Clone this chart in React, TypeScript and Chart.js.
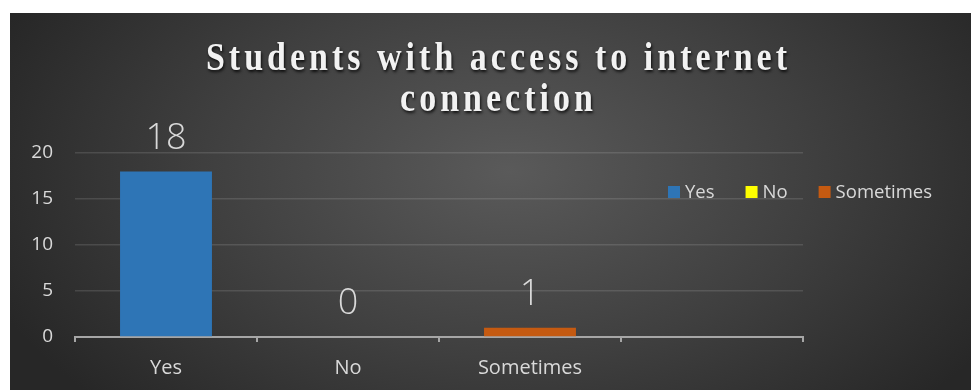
import React, { useEffect, useRef } from 'react';
import { Chart, registerables } from 'chart.js';

Chart.register(...registerables);

const categories = ['Yes', 'No', 'Sometimes', ''];
const seriesNames = ['Yes', 'No', 'Sometimes'];
const yesValues = [18, null, null, null];
const noValues = [null, 0, null, null];
const sometimesValues = [null, null, 1, null];
const seriesColors = ['#2E75B6', '#FFFF00', '#C55A11'];
const yTickValues = [0, 5, 10, 15, 20];
const titleLines = ['Students with access to internet', 'connection'];

const TEXT = '#d9d9d9';
const FONT = '"Open Sans"';
const W = 961;
const H = 377;

const titlePlugin = {
  id: 'stretchedTitle',
  afterDraw(chart: any) {
    const ctx = chart.ctx as CanvasRenderingContext2D;
    ctx.save();
    ctx.font = 'bold 34px "Liberation Serif"';
    (ctx as any).letterSpacing = '4px';
    ctx.textAlign = 'center';
    ctx.textBaseline = 'alphabetic';
    ctx.fillStyle = '#f2f2f2';
    ctx.shadowColor = 'rgba(0,0,0,0.8)';
    ctx.shadowOffsetX = 1;
    ctx.shadowOffsetY = 2;
    ctx.shadowBlur = 3;
    const cx = 488.5;
    const baselines = [57, 98];
    titleLines.forEach((line, i) => {
      ctx.save();
      ctx.translate(cx, baselines[i]);
      ctx.scale(1, 1.2);
      ctx.fillText(line, 0, 0);
      ctx.restore();
    });
    ctx.restore();
  },
};

const legendPlugin = {
  id: 'rowLegend',
  afterDraw(chart: any) {
    const ctx = chart.ctx as CanvasRenderingContext2D;
    ctx.save();
    ctx.font = `18.5px ${FONT}`;
    ctx.textBaseline = 'middle';
    ctx.textAlign = 'left';
    let x = 658;
    const y = 179;
    chart.data.datasets.forEach((ds: any) => {
      ctx.fillStyle = ds.backgroundColor;
      ctx.fillRect(x, y - 6, 12, 12);
      ctx.fillStyle = TEXT;
      ctx.fillText(ds.label, x + 17, y + 1);
      x += 17 + ctx.measureText(ds.label).width + 31;
    });
    ctx.restore();
  },
};

const valueLabelPlugin = {
  id: 'valueLabels',
  afterDatasetsDraw(chart: any) {
    const ctx = chart.ctx as CanvasRenderingContext2D;
    ctx.save();
    ctx.font = `300 36px ${FONT}`;
    ctx.textAlign = 'center';
    ctx.textBaseline = 'middle';
    ctx.fillStyle = TEXT;
    chart.data.datasets.forEach((ds: any, di: number) => {
      const meta = chart.getDatasetMeta(di);
      meta.data.forEach((el: any, idx: number) => {
        const v = ds.data[idx];
        if (v === null || v === undefined) return;
        ctx.fillText(String(v), el.x, el.y - 33);
      });
    });
    ctx.restore();
  },
};

export default function App() {
  const ref = useRef<HTMLCanvasElement | null>(null);

  useEffect(() => {
    if (!ref.current) return;
    Chart.defaults.font.family = FONT;
    const seriesData = [yesValues, noValues, sometimesValues];
    const chart = new Chart(ref.current, {
      type: 'bar',
      data: {
        labels: categories,
        datasets: seriesNames.map((name, i) => ({
          label: name,
          data: seriesData[i],
          backgroundColor: seriesColors[i],
          borderWidth: 0,
          skipNull: true,
          categoryPercentage: 1,
          barPercentage: 0.505,
        })) as any,
      },
      options: {
        animation: false,
        responsive: false,
        devicePixelRatio: 1,
        layout: { padding: { top: 140, right: 168, left: 0, bottom: 0 } },
        plugins: {
          legend: { display: false },
          title: { display: false },
          tooltip: { enabled: false },
        },
        scales: {
          x: {
            type: 'category',
            offset: true,
            afterFit: (s: any) => { s.height = 53; },
            grid: {
              offset: true,
              drawOnChartArea: false,
              drawTicks: true,
              tickLength: 5,
              color: '#a6a6a6',
              lineWidth: 2,
            },
            border: { display: true, color: '#a6a6a6', width: 2 },
            ticks: { color: TEXT, font: { size: 20, family: FONT }, padding: 14, maxRotation: 0 },
          },
          y: {
            min: 0,
            max: 20,
            afterFit: (s: any) => { s.width = 65; },
            afterBuildTicks: (s: any) => { s.ticks = yTickValues.map((v) => ({ value: v })); },
            grid: { color: 'rgba(255,255,255,0.12)', lineWidth: 1.5, drawTicks: false },
            border: { display: false },
            ticks: { color: TEXT, font: { size: 19, family: FONT }, padding: 22 },
          },
        },
      },
      plugins: [valueLabelPlugin, legendPlugin, titlePlugin],
    });
    return () => chart.destroy();
  }, []);

  return (
    <div
      style={{
        position: 'absolute',
        left: 10,
        top: 13,
        width: W,
        height: H,
        background: 'radial-gradient(ellipse 58% 90% at 52% 42%, #5a5a5a 0%, #3f3f3f 55%, #272727 100%)',
        overflow: 'hidden',
      }}
    >
      <canvas ref={ref} width={W} height={H} style={{ display: 'block', width: W, height: H }} />
    </div>
  );
}
